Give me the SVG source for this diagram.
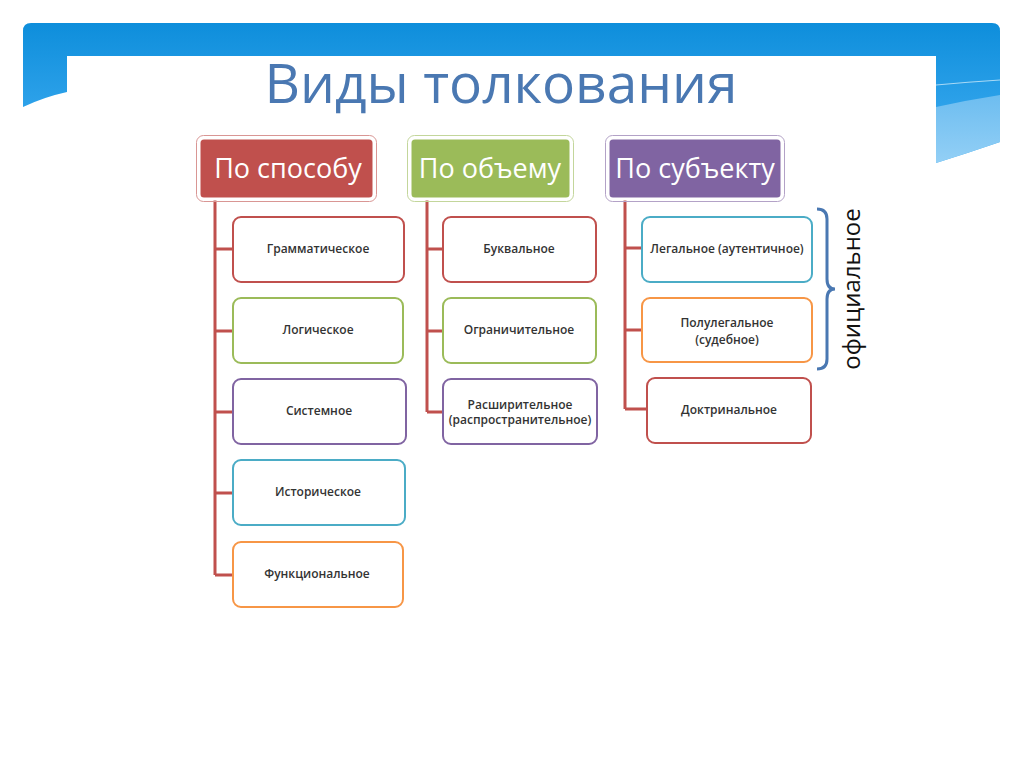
<svg xmlns="http://www.w3.org/2000/svg" width="1024" height="767" viewBox="0 0 1024 767">
  <defs>
    <linearGradient id="bannerGrad" x1="0" y1="23" x2="0" y2="165" gradientUnits="userSpaceOnUse">
      <stop offset="0" stop-color="#0e8edb"/>
      <stop offset="0.6" stop-color="#2ea2ea"/>
      <stop offset="1" stop-color="#45afee"/>
    </linearGradient>
    <linearGradient id="lightGrad" x1="0" y1="95" x2="0" y2="165" gradientUnits="userSpaceOnUse">
      <stop offset="0" stop-color="#6dbdf0"/>
      <stop offset="1" stop-color="#94d0f6"/>
    </linearGradient>
    <style>
      .title { font-family: "Open Sans", "Liberation Sans", sans-serif; font-size: 55px; fill: #4a78b2; }
      .head { font-family: "Open Sans", "Liberation Sans", sans-serif; font-size: 27px; fill: #ffffff; }
      .item { font-family: "Open Sans", "Liberation Sans", sans-serif; font-size: 12px; font-weight: 600; fill: #333333; }
      .side { font-family: "Open Sans", "Liberation Sans", sans-serif; font-size: 24px; fill: #111111; }
      .box { fill: #ffffff; stroke-width: 2; }
      .hbox { stroke: #ffffff; stroke-width: 3; }
      .hout { fill: none; stroke-width: 1; }
      .conn { fill: none; stroke: #c0504d; stroke-width: 3; }
      .red { stroke: #c0504d; }
      .green { stroke: #9bbb59; }
      .purple { stroke: #8064a2; }
      .teal { stroke: #4bacc6; }
      .orange { stroke: #f79646; }
    </style>
  </defs>

  <rect x="0" y="0" width="1024" height="767" fill="#ffffff"/>

  <!-- banner -->
  <g id="banner">
    <path d="M23,31 Q23,23 31,23 L992,23 Q1000,23 1000,31 L1000,142 Q968,153 936,163 L936,56 L67,56 L67,92 Q44,97 23,107 Z" fill="url(#bannerGrad)"/>
    <path d="M936,107 Q968,100 1000,95 L1000,142 Q968,153 936,163 Z" fill="url(#lightGrad)"/>
    <path d="M936,85 Q968,82 1000,80" fill="none" stroke="#a9daf6" stroke-width="1"/>
  </g>

  <text class="title" x="501" y="103" text-anchor="middle">Виды толкования</text>

  <!-- connectors -->
  <g id="connectors">
    <path class="conn" d="M215,200 L215,575 M215,249 L233,249 M215,331 L233,331 M215,412 L233,412 M215,493 L233,493 M215,575 L233,575"/>
    <path class="conn" d="M427,200 L427,412 M427,249 L443,249 M427,331 L443,331 M427,412 L443,412"/>
    <path class="conn" d="M625,200 L625,409 M625,248 L642,248 M625,330 L642,330 M625,409 L647,409"/>
  </g>

  <!-- headers -->
  <g id="h-sposob">
    <rect class="hout" x="196.5" y="135.5" width="180" height="66" rx="7" stroke="#d99694"/>
    <rect class="hbox" x="199" y="138" width="175" height="61" rx="5" fill="#c0504d"/>
    <text class="head" x="288" y="178" text-anchor="middle">По способу</text>
  </g>
  <g id="h-obem">
    <rect class="hout" x="407.5" y="135.5" width="166" height="66" rx="7" stroke="#c3d69b"/>
    <rect class="hbox" x="410" y="138" width="161" height="61" rx="5" fill="#9bbb59"/>
    <text class="head" x="490" y="178" text-anchor="middle">По объему</text>
  </g>
  <g id="h-subekt">
    <rect class="hout" x="605.5" y="135.5" width="179" height="66" rx="7" stroke="#b3a2c7"/>
    <rect class="hbox" x="608" y="138" width="174" height="61" rx="5" fill="#8064a2"/>
    <text class="head" x="695" y="178" text-anchor="middle">По субъекту</text>
  </g>

  <!-- column 1 -->
  <g id="n-gramm">
    <rect class="box red" x="233" y="217" width="171" height="65" rx="8"/>
    <text class="item" x="318" y="253" text-anchor="middle">Грамматическое</text>
  </g>
  <g id="n-logich">
    <rect class="box green" x="233" y="298" width="170" height="65" rx="8"/>
    <text class="item" x="318" y="334" text-anchor="middle">Логическое</text>
  </g>
  <g id="n-sistem">
    <rect class="box purple" x="233" y="379" width="173" height="65" rx="8"/>
    <text class="item" x="319" y="415" text-anchor="middle">Системное</text>
  </g>
  <g id="n-istor">
    <rect class="box teal" x="233" y="460" width="172" height="65" rx="8"/>
    <text class="item" x="318" y="496" text-anchor="middle">Историческое</text>
  </g>
  <g id="n-funk">
    <rect class="box orange" x="233" y="542" width="170" height="65" rx="8"/>
    <text class="item" x="317" y="578" text-anchor="middle">Функциональное</text>
  </g>

  <!-- column 2 -->
  <g id="n-bukv">
    <rect class="box red" x="443" y="217" width="153" height="65" rx="8"/>
    <text class="item" x="519" y="253" text-anchor="middle">Буквальное</text>
  </g>
  <g id="n-ogran">
    <rect class="box green" x="443" y="298" width="153" height="65" rx="8"/>
    <text class="item" x="519" y="334" text-anchor="middle">Ограничительное</text>
  </g>
  <g id="n-rasshir">
    <rect class="box purple" x="443" y="379" width="154" height="65" rx="8"/>
    <text class="item" x="520" y="409" text-anchor="middle">Расширительное</text>
    <text class="item" x="520" y="424" text-anchor="middle">(распространительное)</text>
  </g>

  <!-- column 3 -->
  <g id="n-legal">
    <rect class="box teal" x="642" y="217" width="170" height="65" rx="8"/>
    <text class="item" x="727" y="253" text-anchor="middle">Легальное (аутентичное)</text>
  </g>
  <g id="n-polulegal">
    <rect class="box orange" x="642" y="298" width="170" height="64" rx="8"/>
    <text class="item" x="727" y="327" text-anchor="middle">Полулегальное</text>
    <text class="item" x="727" y="344" text-anchor="middle">(судебное)</text>
  </g>
  <g id="n-doktr">
    <rect class="box red" x="647" y="378" width="164" height="65" rx="8"/>
    <text class="item" x="729" y="414" text-anchor="middle">Доктринальное</text>
  </g>

  <!-- brace and label -->
  <g id="official">
    <path d="M817,209 Q827,209 827,219 L827,279 Q827,289 835,289 Q827,289 827,299 L827,359 Q827,369 817,369" fill="none" stroke="#4a78b2" stroke-width="3"/>
    <text class="side" transform="translate(860,289) rotate(-90)" text-anchor="middle">официальное</text>
  </g>
</svg>
